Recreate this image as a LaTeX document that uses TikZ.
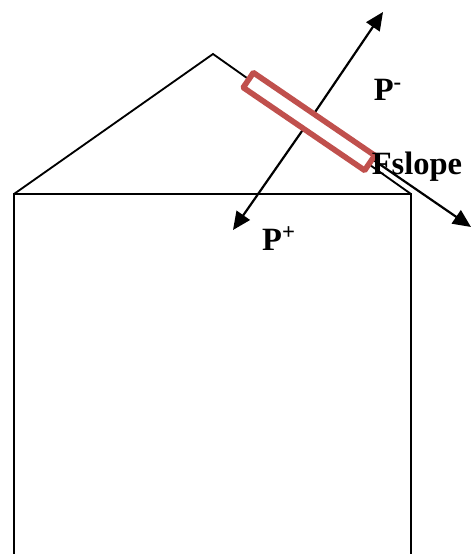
\documentclass[tikz,border=0pt]{standalone}
\usepackage{fontspec}
\setmainfont{Liberation Serif}
\usepackage{xcolor}
\usetikzlibrary{arrows.meta}
\definecolor{myred}{RGB}{192,80,77}
\tikzset{
  wall/.style={line width=1.05pt,black},
  force/.style={line width=1.25pt,black,-{Triangle[length=0.36cm,width=0.32cm]}},
  label/.style={font=\bfseries\fontsize{18.5}{20}\selectfont,inner sep=0pt}
}

\begin{document}
\begin{tikzpicture}[x=0.02cm,y=-0.02cm]
  \useasboundingbox (0,0) rectangle (475,554);

  % house
  \coordinate (apex) at (213,54);
  \coordinate (eaveL) at (14,194);
  \coordinate (eaveR) at (411,194);
  \coordinate (footL) at (14,554);
  \coordinate (footR) at (411,554);
  \draw[wall] (footL) -- (eaveL) -- (eaveR) -- (footR);
  \draw[wall] (eaveL) -- (apex) -- (eaveR);

  % normal and slope forces
  \coordinate (Ptip) at (383,12);
  \coordinate (Mtip) at (233,230);
  \coordinate (Fbase) at (372,159);
  \coordinate (Ftip) at (471,227);
  \draw[force] (309,121) -- (Ptip);
  \draw[force] (309,121) -- (Mtip);
  \draw[force] (Fbase) -- (Ftip);

  % panel
  \node[draw=myred,fill=white,line width=3.2pt,rounded corners=0.5pt,rotate=-34.3,
    minimum width=2.94cm,minimum height=0.36cm,inner sep=0pt,outer sep=0pt] (panel) at (309,121.5) {};

  \node[label] (pminus) at (388,90) {P\textsuperscript{-}};
  \node[label] (pplus) at (279,239) {P\textsuperscript{+}};
  \node[label] (fslope) at (417,167) {Fslope};
\end{tikzpicture}
\end{document}
